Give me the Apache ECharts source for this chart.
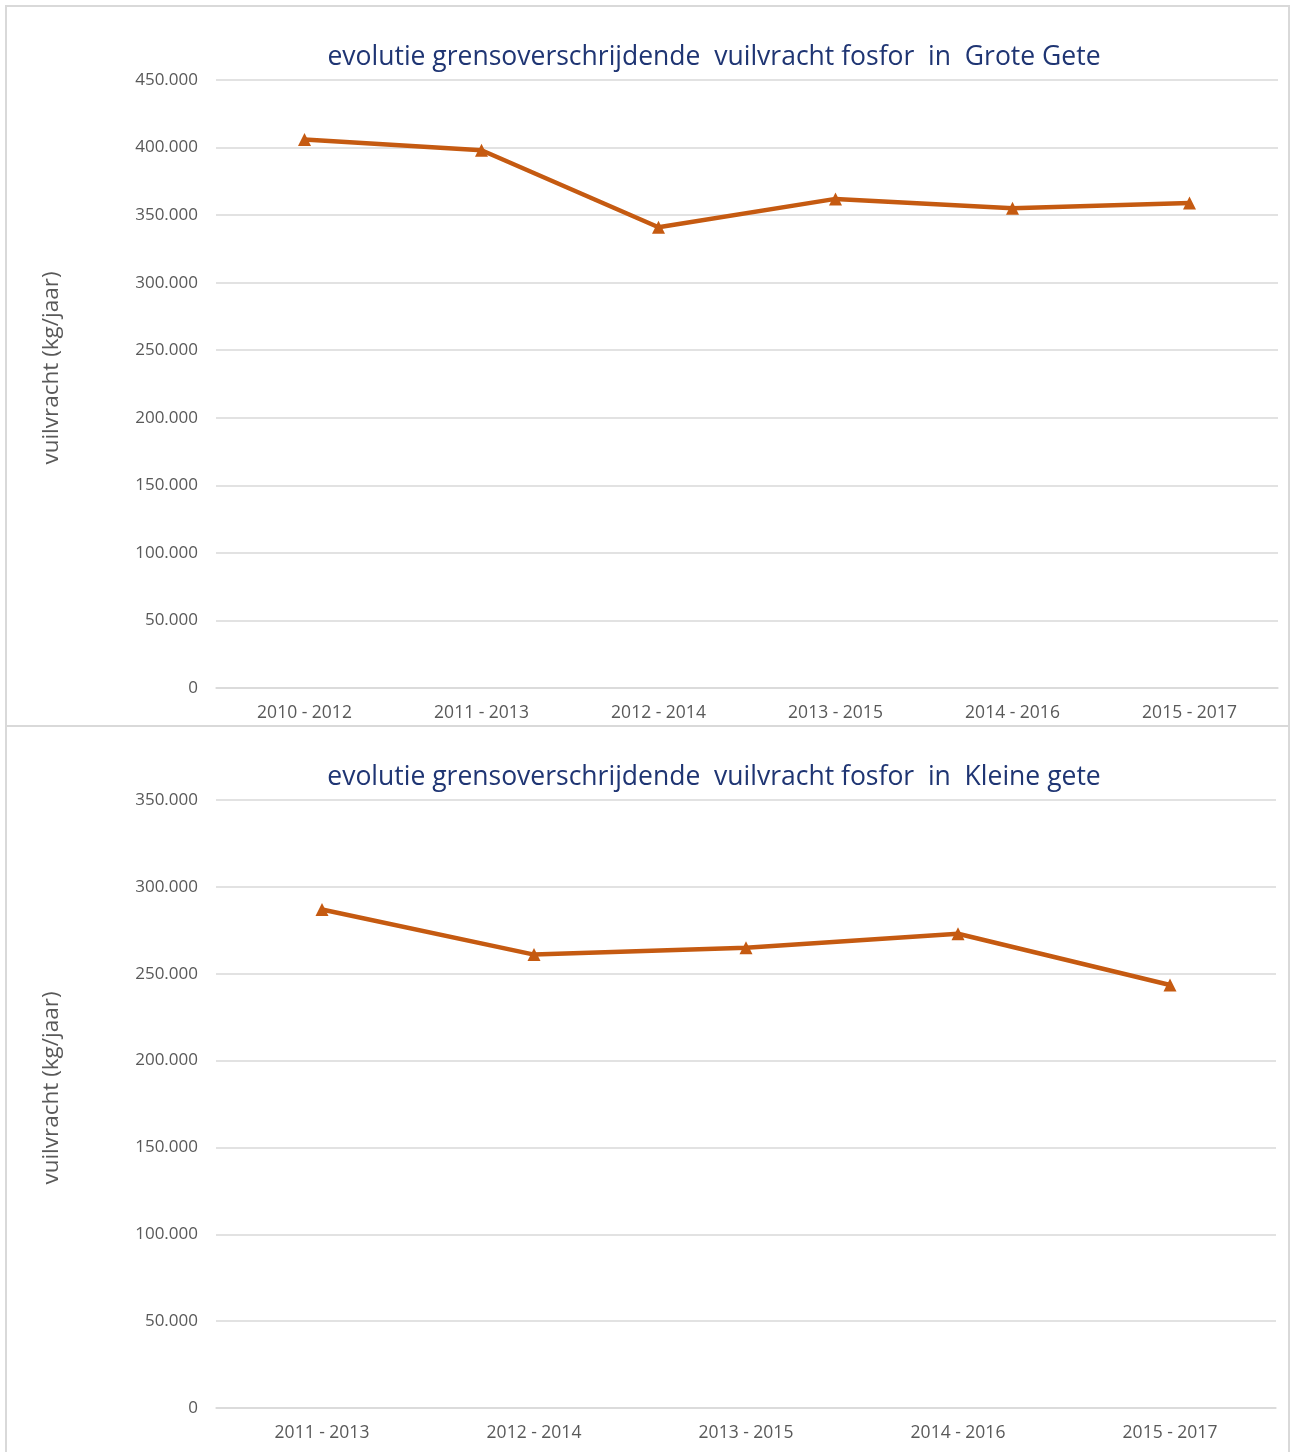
<!DOCTYPE html>
<html>
<head>
<meta charset="utf-8">
<script src="https://cdn.jsdelivr.net/npm/echarts@6/dist/echarts.min.js"></script>
<style>
html,body{margin:0;padding:0;background:#fff;}
#chart{width:1296px;height:1452px;}
</style>
</head>
<body>
<div id="chart"></div>
<script>
const titleTop = 'evolutie grensoverschrijdende  vuilvracht fosfor  in  Grote Gete';
const titleBottom = 'evolutie grensoverschrijdende  vuilvracht fosfor  in  Kleine gete';
const yAxisName = 'vuilvracht (kg/jaar)';
const categoriesTop = ['2010 - 2012', '2011 - 2013', '2012 - 2014', '2013 - 2015', '2014 - 2016', '2015 - 2017'];
const valuesTop = [406000, 398000, 341000, 362000, 355000, 359000];
const categoriesBottom = ['2011 - 2013', '2012 - 2014', '2013 - 2015', '2014 - 2016', '2015 - 2017'];
const valuesBottom = [287000, 261000, 265000, 273000, 243500];

const fmt = v => String(v).replace(/\B(?=(\d{3})+(?!\d))/g, '.');
const lineColor = '#C55A11';
const gridColor = '#D9D9D9';
const labelColor = '#595959';
const titleColor = '#1F3573';
const fontFam = '"Open Sans", "Noto Sans", sans-serif';

function xAxis(gridIndex, data) {
  return {
    type: 'category', gridIndex, data,
    axisLine: { show: true, lineStyle: { color: gridColor, width: 1.5 } },
    axisTick: { show: false },
    axisLabel: { color: labelColor, fontSize: 17.5, fontFamily: fontFam, margin: 16 }
  };
}
function yAxis(gridIndex, max) {
  return {
    type: 'value', gridIndex, min: 0, max, interval: 50000,
    axisLine: { show: false }, axisTick: { show: false },
    axisLabel: { color: labelColor, fontSize: 17, fontFamily: fontFam, margin: 18, formatter: fmt },
    splitLine: { lineStyle: { color: gridColor, width: 1.5 } }
  };
}
function series(i, data) {
  return {
    type: 'line', xAxisIndex: i, yAxisIndex: i, data,
    symbol: 'triangle', symbolSize: 13,
    lineStyle: { color: lineColor, width: 4.5 },
    itemStyle: { color: lineColor },
    animation: false
  };
}
function yName(y) {
  return { type: 'text', x: 52, y, rotation: Math.PI / 2, silent: true,
    style: { text: yAxisName, fill: labelColor, fontSize: 22.5, fontFamily: fontFam,
      textAlign: 'center', textVerticalAlign: 'middle' } };
}

const chart = echarts.init(document.getElementById('chart'));
chart.setOption({
  backgroundColor: '#fff',
  animation: false,
  title: [
    { text: titleTop, left: 709, top: 39, textAlign: 'center',
      textStyle: { color: titleColor, fontSize: 26.5, fontWeight: 'normal', fontFamily: fontFam } },
    { text: titleBottom, left: 709, top: 759, textAlign: 'center',
      textStyle: { color: titleColor, fontSize: 26.5, fontWeight: 'normal', fontFamily: fontFam } }
  ],
  graphic: [
    { type: 'rect', shape: { x: 6, y: 6, width: 1283, height: 720 }, style: { fill: 'none', stroke: gridColor, lineWidth: 2 }, silent: true },
    { type: 'rect', shape: { x: 6, y: 726, width: 1283, height: 740 }, style: { fill: 'none', stroke: gridColor, lineWidth: 2 }, silent: true },
    yName(368),
    yName(1088)
  ],
  grid: [
    { left: 216, width: 1062, top: 80, height: 608 },
    { left: 216, width: 1060, top: 800, height: 608 }
  ],
  xAxis: [xAxis(0, categoriesTop), xAxis(1, categoriesBottom)],
  yAxis: [yAxis(0, 450000), yAxis(1, 350000)],
  series: [series(0, valuesTop), series(1, valuesBottom)]
});
</script>
</body>
</html>
